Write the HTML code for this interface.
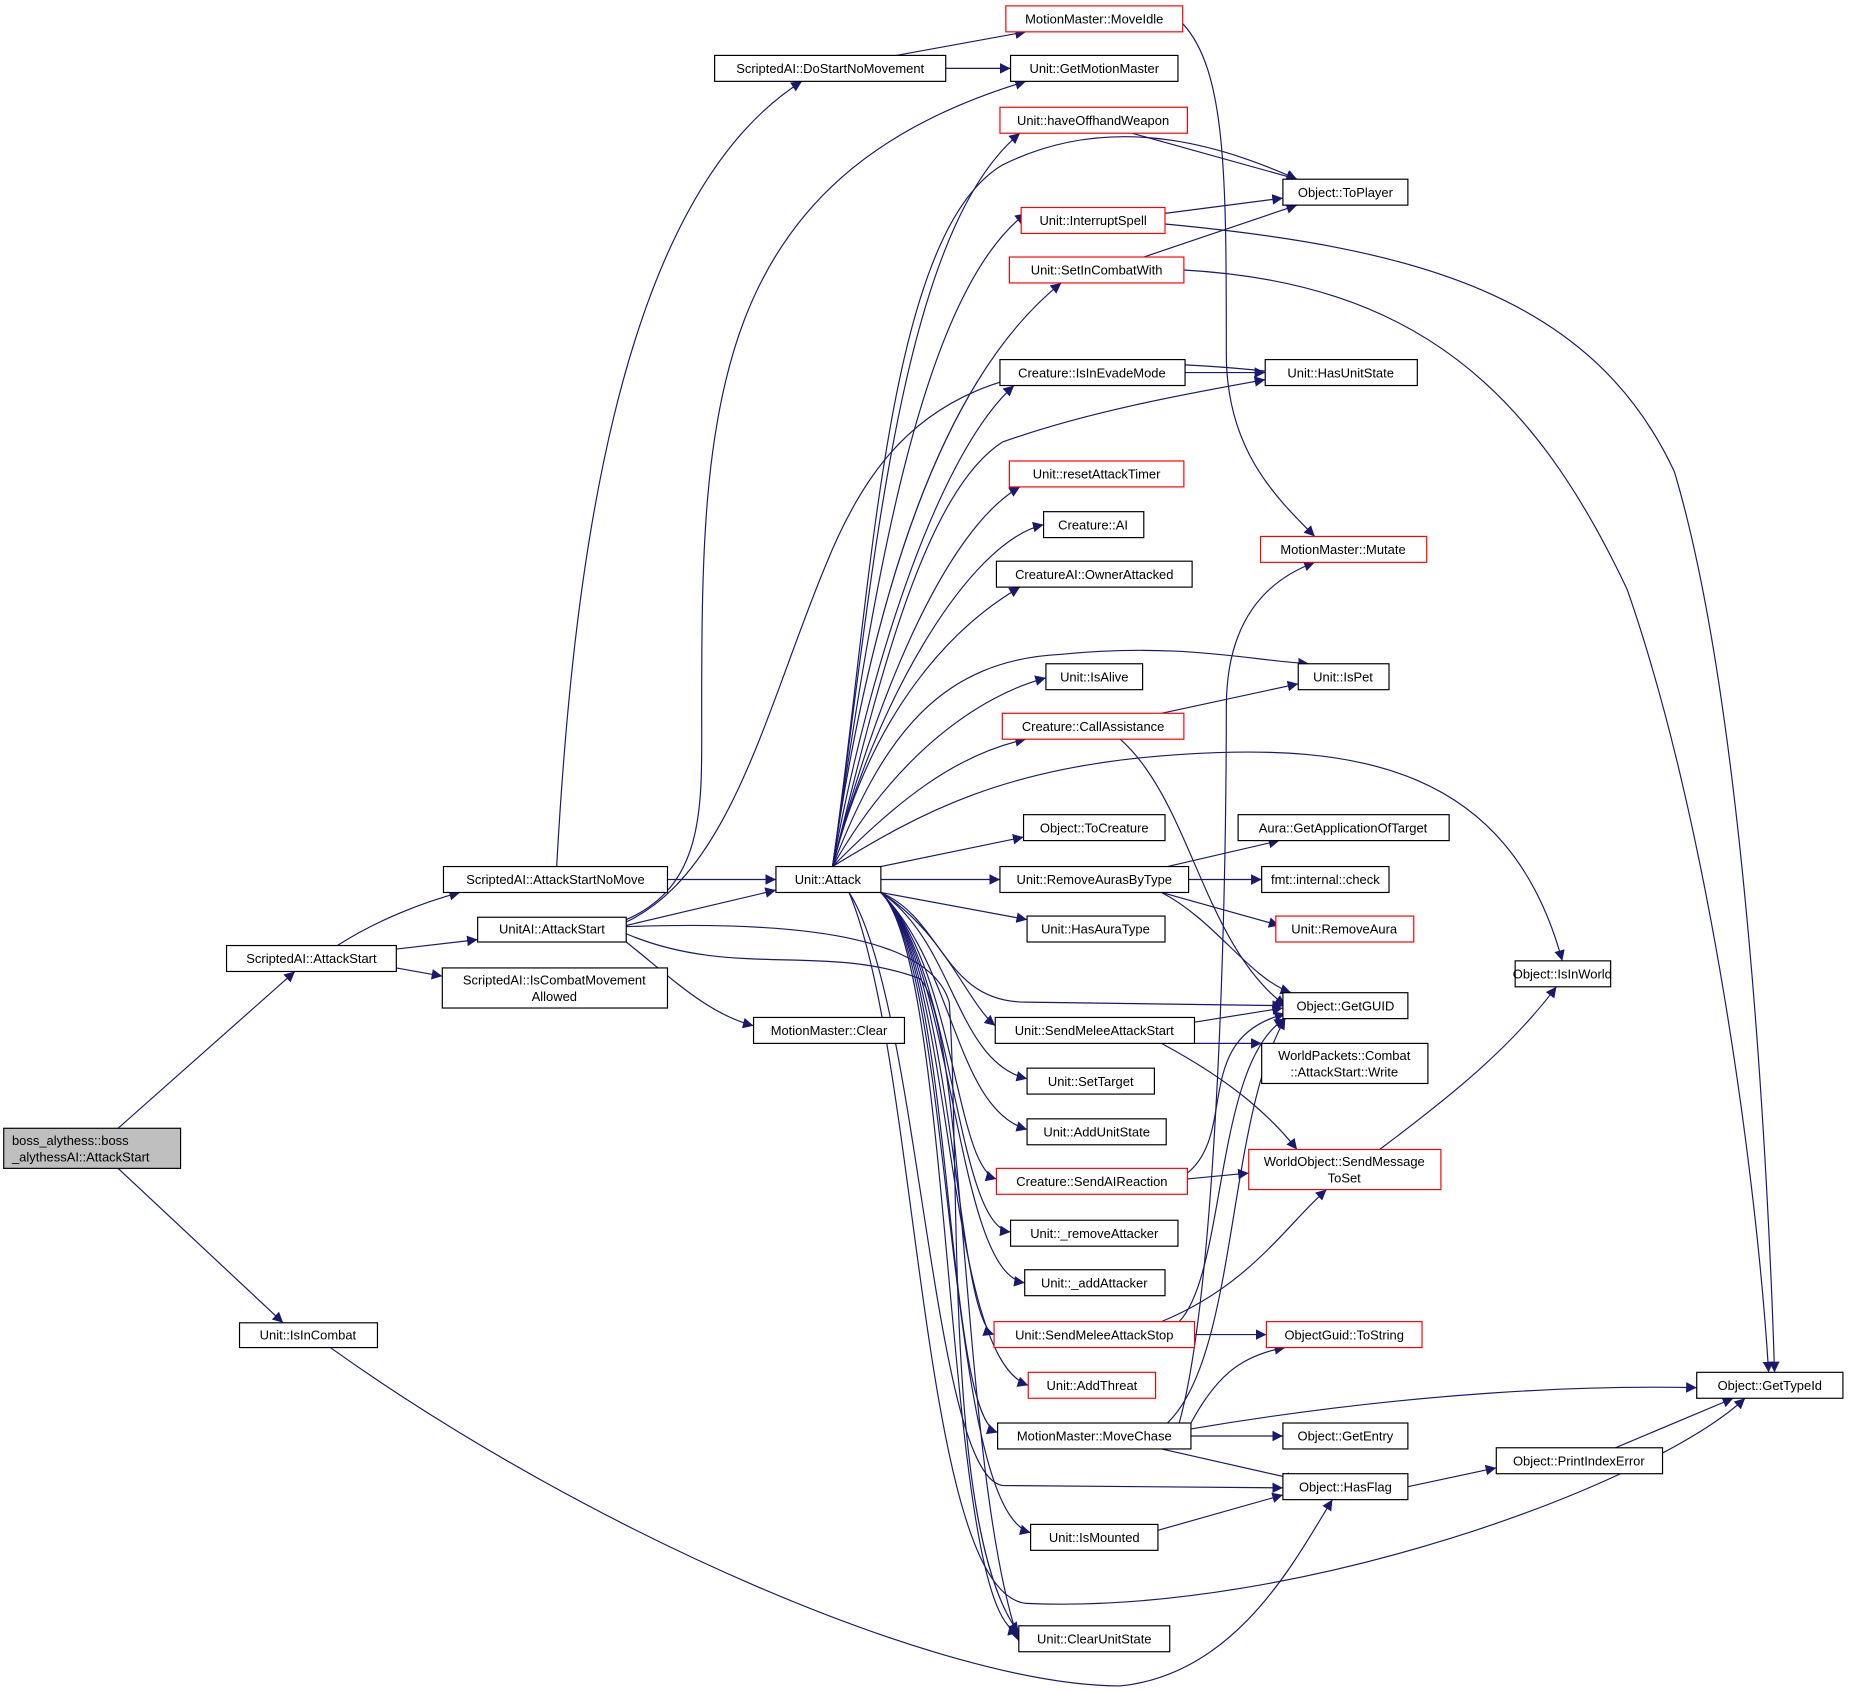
<!DOCTYPE html>
<html><head><meta charset="utf-8"><style>
html,body{margin:0;padding:0;background:#fff;}
svg{display:block;}
text{font-family:"Liberation Sans",sans-serif;font-size:11px;fill:#000;}
.n{fill:#fff;stroke:#000;stroke-width:1;}
.r{fill:#fff;stroke:#f00;stroke-width:1;}
.e{fill:none;stroke:#191970;stroke-width:1;marker-end:url(#a);}
</style></head><body>
<svg width="1849" height="1693" viewBox="0 0 1568 1436" xmlns="http://www.w3.org/2000/svg">
<defs><marker id="a" viewBox="0 0 10 10" refX="10" refY="5" markerWidth="9" markerHeight="9" markerUnits="userSpaceOnUse" orient="auto"><path d="M0,0L10,5L0,10z" fill="#191970"/></marker></defs>
<g>
<path class="e" d="M100,957L250,824"/>
<path class="e" d="M100,991L240,1122"/>
<path class="e" d="M286,802C320,780 360,765 390,757"/>
<path class="e" d="M336,805L405,797"/>
<path class="e" d="M336,821L375,828"/>
<path class="e" d="M472,735C485,500 520,170 680,69"/>
<path class="e" d="M566,746L658,746"/>
<path class="e" d="M531,785L658,755"/>
<path class="e" d="M531,780C600,750 595,680 595,600C595,350 600,150 870,69"/>
<path class="e" d="M531,782C620,740 650,600 700,480C760,330 850,290 1085,316"/>
<path class="e" d="M531,799C570,830 600,860 639,870"/>
<path class="e" d="M531,786C700,780 790,800 805,850C815,1000 800,1300 864,1385"/>
<path class="e" d="M531,792C620,830 700,800 780,830C820,870 815,1250 864,1392"/>
<path class="e" d="M760,47L870,27"/>
<path class="e" d="M802,58L857,58"/>
<path class="e" d="M1003,20C1040,60 1040,150 1040,300C1040,380 1080,420 1115,455"/>
<path class="e" d="M960,113L1100,152"/>
<path class="e" d="M988,181L1088,168"/>
<path class="e" d="M988,190C1200,210 1350,250 1420,400C1480,600 1500,1000 1505,1164"/>
<path class="e" d="M970,218L1100,174"/>
<path class="e" d="M1004,229C1200,240 1300,330 1380,500C1450,700 1490,1000 1500,1164"/>
<path class="e" d="M1005,316L1073,316"/>
<path class="e" d="M985,605L1101,580"/>
<path class="e" d="M950,627C1010,680 1020,800 1090,853"/>
<path class="e" d="M1000,1207C1030,1100 1040,800 1040,600C1040,520 1080,490 1115,477"/>
<path class="e" d="M990,735L1085,713"/>
<path class="e" d="M1008,746L1070,746"/>
<path class="e" d="M985,757L1085,785"/>
<path class="e" d="M985,757C1030,780 1060,830 1095,842"/>
<path class="e" d="M1013,867L1088,855"/>
<path class="e" d="M985,885L1070,885"/>
<path class="e" d="M985,885C1050,920 1080,950 1100,975"/>
<path class="e" d="M1007,995C1050,960 1010,880 1090,860"/>
<path class="e" d="M1007,1000L1059,995"/>
<path class="e" d="M1000,1121C1040,1080 1030,900 1090,864"/>
<path class="e" d="M985,1121C1060,1090 1090,1040 1125,1009"/>
<path class="e" d="M1013,1132L1074,1132"/>
<path class="e" d="M1010,1212C1200,1180 1350,1175 1439,1177"/>
<path class="e" d="M1010,1218L1088,1218"/>
<path class="e" d="M985,1229L1100,1255"/>
<path class="e" d="M1010,1207C1030,1170 1050,1150 1090,1143"/>
<path class="e" d="M990,1207C1050,1150 1040,950 1090,864"/>
<path class="e" d="M982,1298L1088,1268"/>
<path class="e" d="M1194,1261L1269,1245"/>
<path class="e" d="M1370,1228L1470,1186"/>
<path class="e" d="M1170,975C1230,930 1280,890 1320,837"/>
<path class="e" d="M280,1143C500,1300 800,1430 950,1430C1050,1420 1100,1320 1130,1272"/>
<path class="e" d="M706,735C740,500 760,200 865,113"/>
<path class="e" d="M706,735C740,500 750,200 850,140C950,90 1050,130 1100,152"/>
<path class="e" d="M706,735C740,500 780,250 870,181"/>
<path class="e" d="M706,735C740,500 800,320 900,240"/>
<path class="e" d="M706,735C740,600 780,420 850,375C920,350 1000,335 1073,322"/>
<path class="e" d="M706,735C740,550 800,380 860,327"/>
<path class="e" d="M706,735C740,600 800,450 865,413"/>
<path class="e" d="M706,735C740,600 820,460 885,445"/>
<path class="e" d="M706,735C740,600 810,530 865,498"/>
<path class="e" d="M706,735C750,620 800,560 900,555C1000,545 1060,560 1110,563"/>
<path class="e" d="M706,735C760,640 830,590 887,575"/>
<path class="e" d="M706,735C760,680 810,640 870,627"/>
<path class="e" d="M706,735C780,690 850,650 1000,640C1150,630 1280,650 1325,815"/>
<path class="e" d="M747,735L868,710"/>
<path class="e" d="M747,746L848,746"/>
<path class="e" d="M747,757L871,780"/>
<path class="e" d="M747,757C800,780 800,850 870,850L1088,853"/>
<path class="e" d="M747,757C800,790 820,850 844,870"/>
<path class="e" d="M747,757C810,800 810,900 871,915"/>
<path class="e" d="M747,757C810,820 810,940 871,958"/>
<path class="e" d="M747,757C810,820 810,990 845,1000"/>
<path class="e" d="M747,757C810,820 810,1040 857,1045"/>
<path class="e" d="M747,757C810,820 810,1080 869,1088"/>
<path class="e" d="M747,757C810,820 810,1120 843,1132"/>
<path class="e" d="M747,757C810,820 800,1150 872,1175"/>
<path class="e" d="M747,757C810,820 800,1200 846,1215"/>
<path class="e" d="M747,757C810,820 800,1280 874,1300"/>
<path class="e" d="M747,757C810,820 800,1370 864,1385"/>
<path class="e" d="M720,757C780,850 790,1250 850,1260L1088,1262"/>
<path class="e" d="M720,757C780,900 780,1350 870,1360C1100,1370 1400,1260 1480,1186"/>
</g>
<g>
<rect x="3" y="957" width="150" height="34" fill="#bfbfbf" stroke="#000"/><text x="10" y="971">boss_alythess::boss</text><text x="10" y="985">_alythessAI::AttackStart</text>
<rect class="n" x="192" y="802" width="144" height="22"/><text x="264" y="817" text-anchor="middle">ScriptedAI::AttackStart</text>
<rect class="n" x="376" y="735" width="190" height="22"/><text x="471" y="750" text-anchor="middle">ScriptedAI::AttackStartNoMove</text>
<rect class="n" x="405" y="778" width="126" height="21"/><text x="468" y="792" text-anchor="middle">UnitAI::AttackStart</text>
<rect class="n" x="375" y="821" width="191" height="34"/><text x="470" y="835" text-anchor="middle">ScriptedAI::IsCombatMovement</text><text x="470" y="849" text-anchor="middle">Allowed</text>
<rect class="n" x="203" y="1122" width="117" height="21"/><text x="261" y="1136" text-anchor="middle">Unit::IsInCombat</text>
<rect class="n" x="606" y="47" width="196" height="22"/><text x="704" y="62" text-anchor="middle">ScriptedAI::DoStartNoMovement</text>
<rect class="n" x="658" y="735" width="89" height="22"/><text x="702" y="750" text-anchor="middle">Unit::Attack</text>
<rect class="n" x="639" y="863" width="128" height="22"/><text x="703" y="878" text-anchor="middle">MotionMaster::Clear</text>
<rect class="r" x="853" y="5" width="150" height="22"/><text x="928" y="20" text-anchor="middle">MotionMaster::MoveIdle</text>
<rect class="n" x="857" y="47" width="142" height="22"/><text x="928" y="62" text-anchor="middle">Unit::GetMotionMaster</text>
<rect class="r" x="848" y="91" width="159" height="22"/><text x="927" y="106" text-anchor="middle">Unit::haveOffhandWeapon</text>
<rect class="r" x="866" y="176" width="122" height="22"/><text x="927" y="191" text-anchor="middle">Unit::InterruptSpell</text>
<rect class="r" x="856" y="218" width="148" height="22"/><text x="930" y="233" text-anchor="middle">Unit::SetInCombatWith</text>
<rect class="n" x="848" y="305" width="157" height="22"/><text x="926" y="320" text-anchor="middle">Creature::IsInEvadeMode</text>
<rect class="r" x="856" y="391" width="148" height="22"/><text x="930" y="406" text-anchor="middle">Unit::resetAttackTimer</text>
<rect class="n" x="885" y="434" width="85" height="22"/><text x="927" y="449" text-anchor="middle">Creature::AI</text>
<rect class="n" x="845" y="476" width="166" height="22"/><text x="928" y="491" text-anchor="middle">CreatureAI::OwnerAttacked</text>
<rect class="n" x="887" y="563" width="82" height="22"/><text x="928" y="578" text-anchor="middle">Unit::IsAlive</text>
<rect class="r" x="850" y="605" width="154" height="22"/><text x="927" y="620" text-anchor="middle">Creature::CallAssistance</text>
<rect class="n" x="868" y="691" width="120" height="22"/><text x="928" y="706" text-anchor="middle">Object::ToCreature</text>
<rect class="n" x="848" y="735" width="160" height="22"/><text x="928" y="750" text-anchor="middle">Unit::RemoveAurasByType</text>
<rect class="n" x="871" y="777" width="117" height="22"/><text x="929" y="792" text-anchor="middle">Unit::HasAuraType</text>
<rect class="n" x="844" y="863" width="169" height="22"/><text x="928" y="878" text-anchor="middle">Unit::SendMeleeAttackStart</text>
<rect class="n" x="871" y="906" width="108" height="22"/><text x="925" y="921" text-anchor="middle">Unit::SetTarget</text>
<rect class="n" x="871" y="949" width="118" height="22"/><text x="930" y="964" text-anchor="middle">Unit::AddUnitState</text>
<rect class="r" x="845" y="991" width="162" height="22"/><text x="926" y="1006" text-anchor="middle">Creature::SendAIReaction</text>
<rect class="n" x="857" y="1035" width="142" height="22"/><text x="928" y="1050" text-anchor="middle">Unit::_removeAttacker</text>
<rect class="n" x="869" y="1077" width="119" height="22"/><text x="928" y="1092" text-anchor="middle">Unit::_addAttacker</text>
<rect class="r" x="843" y="1121" width="170" height="22"/><text x="928" y="1136" text-anchor="middle">Unit::SendMeleeAttackStop</text>
<rect class="r" x="872" y="1164" width="108" height="22"/><text x="926" y="1179" text-anchor="middle">Unit::AddThreat</text>
<rect class="n" x="846" y="1207" width="164" height="22"/><text x="928" y="1222" text-anchor="middle">MotionMaster::MoveChase</text>
<rect class="n" x="874" y="1293" width="108" height="22"/><text x="928" y="1308" text-anchor="middle">Unit::IsMounted</text>
<rect class="n" x="864" y="1379" width="128" height="22"/><text x="928" y="1394" text-anchor="middle">Unit::ClearUnitState</text>
<rect class="n" x="1088" y="152" width="106" height="22"/><text x="1141" y="167" text-anchor="middle">Object::ToPlayer</text>
<rect class="n" x="1073" y="305" width="129" height="22"/><text x="1137" y="320" text-anchor="middle">Unit::HasUnitState</text>
<rect class="r" x="1069" y="455" width="141" height="22"/><text x="1139" y="470" text-anchor="middle">MotionMaster::Mutate</text>
<rect class="n" x="1101" y="563" width="77" height="22"/><text x="1139" y="578" text-anchor="middle">Unit::IsPet</text>
<rect class="n" x="1050" y="691" width="179" height="22"/><text x="1139" y="706" text-anchor="middle">Aura::GetApplicationOfTarget</text>
<rect class="n" x="1070" y="735" width="108" height="22"/><text x="1124" y="750" text-anchor="middle">fmt::internal::check</text>
<rect class="r" x="1082" y="777" width="117" height="22"/><text x="1140" y="792" text-anchor="middle">Unit::RemoveAura</text>
<rect class="n" x="1088" y="842" width="106" height="22"/><text x="1141" y="857" text-anchor="middle">Object::GetGUID</text>
<rect class="n" x="1070" y="885" width="141" height="34"/><text x="1140" y="899" text-anchor="middle">WorldPackets::Combat</text><text x="1140" y="913" text-anchor="middle">::AttackStart::Write</text>
<rect class="r" x="1059" y="975" width="163" height="34"/><text x="1140" y="989" text-anchor="middle">WorldObject::SendMessage</text><text x="1140" y="1003" text-anchor="middle">ToSet</text>
<rect class="r" x="1074" y="1121" width="132" height="22"/><text x="1140" y="1136" text-anchor="middle">ObjectGuid::ToString</text>
<rect class="n" x="1088" y="1207" width="106" height="22"/><text x="1141" y="1222" text-anchor="middle">Object::GetEntry</text>
<rect class="n" x="1088" y="1250" width="106" height="22"/><text x="1141" y="1265" text-anchor="middle">Object::HasFlag</text>
<rect class="n" x="1269" y="1228" width="141" height="22"/><text x="1339" y="1243" text-anchor="middle">Object::PrintIndexError</text>
<rect class="n" x="1285" y="815" width="81" height="22"/><text x="1325" y="830" text-anchor="middle">Object::IsInWorld</text>
<rect class="n" x="1439" y="1164" width="124" height="22"/><text x="1501" y="1179" text-anchor="middle">Object::GetTypeId</text>
</g>
</svg>
</body></html>
